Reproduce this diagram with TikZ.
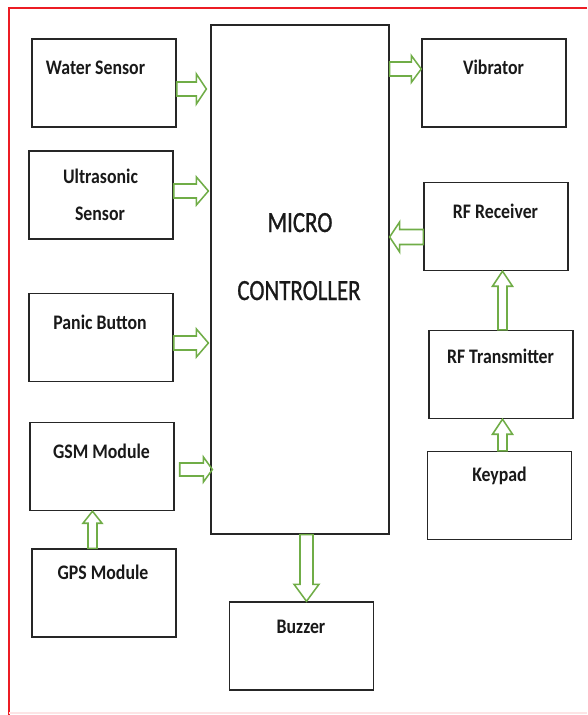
\documentclass[tikz,border=0pt]{standalone}
\usepackage{fontspec}
\setmainfont{Carlito}[FakeStretch=0.86]
\newfontfamily\mcfont{Carlito}[FakeStretch=0.78,FakeBold=0.8]
\usetikzlibrary{calc}
\newdimen\pu \pu=0.75pt
\definecolor{arrgreen}{RGB}{112,173,71}
\definecolor{frameRed}{RGB}{236,28,36}
% #1 start, #2 end, #3 shaft half width, #4 head half width, #5 head length
\newcommand{\blockarr}[5]{%
  \coordinate (ba-h) at ($(#2)!#5!(#1)$);
  \draw[arrowline] ($(#1)!#3!90:(#2)$) -- ($(ba-h)!#3!90:(#2)$) -- ($(ba-h)!#4!90:(#2)$) -- (#2)
    -- ($(ba-h)!#4!-90:(#2)$) -- ($(ba-h)!#3!-90:(#2)$) -- ($(#1)!#3!-90:(#2)$) -- cycle;
}
\begin{document}
\begin{tikzpicture}[x=0.75pt,y=-0.75pt,
  box/.style={draw=black!85, line width=1.1pt, minimum width=144\pu, minimum height=88\pu, inner sep=0pt},
  lbl/.style={font=\bfseries\fontsize{15.5}{18}\selectfont, anchor=base, inner sep=0pt, text=black!90},
  mclbl/.style={font=\mcfont\fontsize{22}{26}\selectfont, anchor=base, inner sep=0pt, text=black!90},
  arrowline/.style={draw=arrgreen, line width=1.15pt, line join=miter}]
\useasboundingbox (0,0) rectangle (587,715);
\fill[white] (0,0) rectangle (587,715);
\draw[frameRed, line width=1.2pt] (587,8) -- (9,8) -- (9,715);
\draw[frameRed!12, line width=1pt] (9,713) -- (587,713);

% boxes
\node[box] (water)  at (104,83) {};
\node[box] (ultra)  at (101,195) {};
\node[box] (panic)  at (101,337.5) {};
\node[box] (gsm)    at (102,466.5) {};
\node[box] (gps)    at (104,593) {};
\node[box, minimum width=178\pu, minimum height=509\pu, line width=0.9pt] (mc) at (300,279.5) {};
\node[box] (buzzer) at (301.5,646) {};
\node[box] (vib)    at (494,83) {};
\node[box] (rfr)    at (496,226.5) {};
\node[box] (rft)    at (501,374.5) {};
\node[box] (key)    at (499.5,495.5) {};

% labels
\node[lbl] (waterT)  at (95.5,74) {Water Sensor};
\node[lbl] (ultraT1) at (100.5,183) {Ultrasonic};
\node[lbl] (ultraT2) at (100,220) {Sensor};
\node[lbl] (panicT)  at (100,329) {Panic Button};
\node[lbl] (gsmT)    at (101.5,458) {GSM Module};
\node[lbl] (gpsT)    at (103,579) {GPS Module};
\node[lbl] (buzzT)   at (301,633) {Buzzer};
\node[lbl] (vibT)    at (493.5,74) {Vibrator};
\node[lbl] (rfrT)    at (495.5,218) {RF Receiver};
\node[lbl] (rftT)    at (500.5,363) {RF Transmitter};
\node[lbl] (keyT)    at (499.5,481) {Keypad};
\node[mclbl] (mcT1)  at (300,232) {MICRO};
\node[mclbl] (mcT2)  at (299,300) {CONTROLLER};

% arrow end points
\coordinate (a1s) at ($(water.east)+(0,6)$);
\coordinate (a1e) at ($(mc.west |- a1s)+(-4,0)$);
\coordinate (a2s) at ($(ultra.east)+(0,-4)$);
\coordinate (a2e) at ($(mc.west |- a2s)+(-2,0)$);
\coordinate (a3s) at ($(panic.east)+(0,5.5)$);
\coordinate (a3e) at ($(mc.west |- a3s)+(-2,0)$);
\coordinate (a4s) at ($(gsm.east)+(5,3)$);
\coordinate (a4e) at ($(mc.west |- a4s)+(2,0)$);
\coordinate (a5e) at ($(vib.west)+(0,-14)$);
\coordinate (a5s) at (mc.east |- a5e);
\coordinate (a6s) at ($(rfr.west)+(0,10.5)$);
\coordinate (a6e) at (mc.east |- a6s);
\coordinate (a7s) at ($(rft.north)+(1.5,0)$);
\coordinate (a7e) at (rfr.south -| a7s);
\coordinate (a8s) at ($(key.north)+(3,0)$);
\coordinate (a8e) at (rft.south -| a8s);
\coordinate (a9s) at ($(gps.north)+(-11.5,0)$);
\coordinate (a9e) at (gsm.south -| a9s);
\coordinate (a10s) at ($(mc.south)+(6.5,0)$);
\coordinate (a10e) at (buzzer.north -| a10s);

\blockarr{a1s}{a1e}{7\pu}{15\pu}{10\pu}
\blockarr{a2s}{a2e}{7\pu}{14\pu}{12\pu}
\blockarr{a3s}{a3e}{7\pu}{14\pu}{12\pu}
\blockarr{a4s}{a4e}{6.5\pu}{12.5\pu}{9\pu}
\blockarr{a5s}{a5e}{7\pu}{13.5\pu}{10\pu}
\blockarr{a6s}{a6e}{7.5\pu}{15\pu}{10\pu}
\blockarr{a7s}{a7e}{4.5\pu}{10\pu}{15\pu}
\blockarr{a8s}{a8e}{4.5\pu}{10\pu}{15\pu}
\blockarr{a9s}{a9e}{4.5\pu}{9.5\pu}{12\pu}
\blockarr{a10s}{a10e}{6.5\pu}{12.5\pu}{17\pu}
\end{tikzpicture}
\end{document}
